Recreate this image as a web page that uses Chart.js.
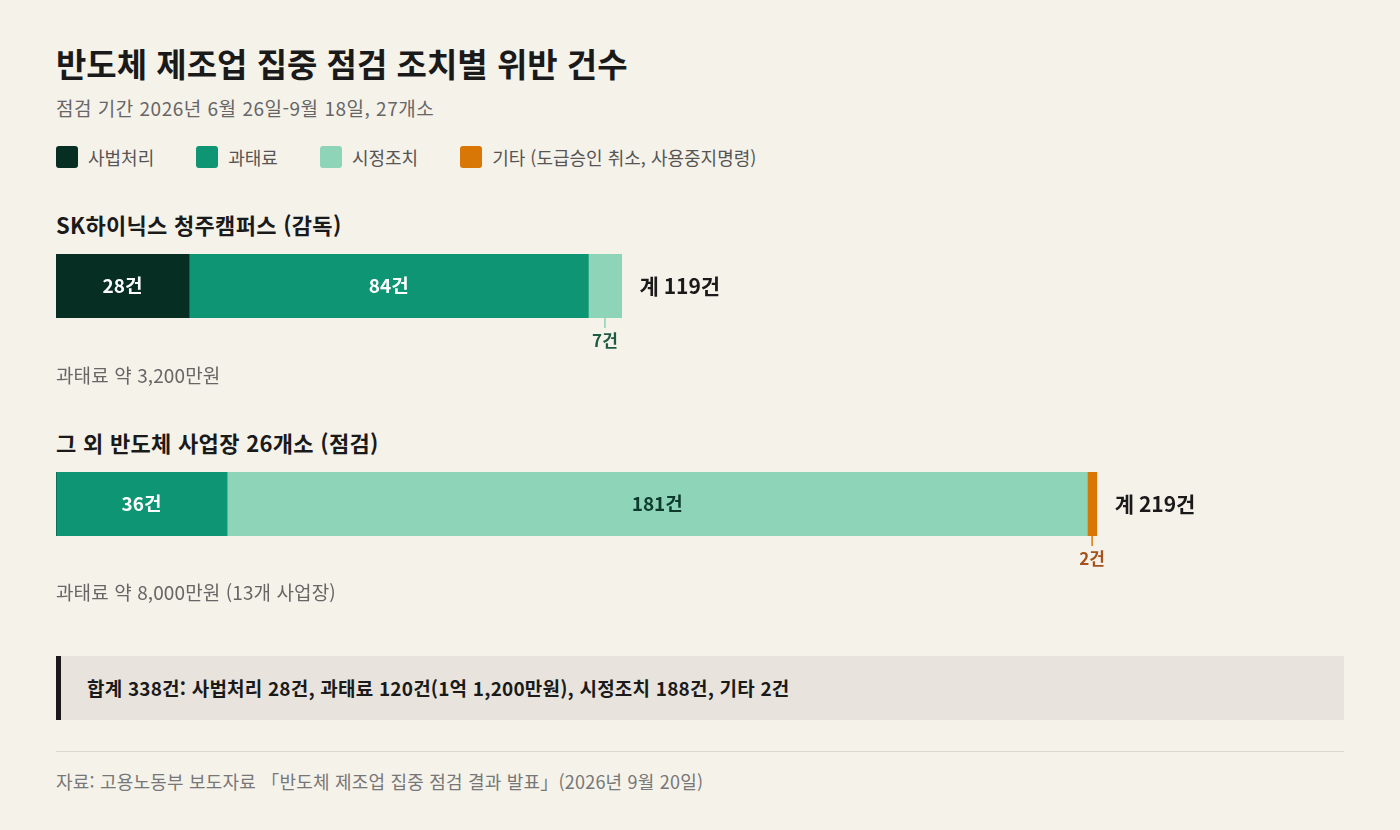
<!DOCTYPE html>
<html lang="ko">
<head>
<meta charset="utf-8">
<title>반도체 제조업 집중 점검 조치별 위반 건수</title>
<script src="https://cdn.jsdelivr.net/npm/chart.js@4.4.1/dist/chart.umd.min.js"></script>
<style>
  html, body { margin: 0; padding: 0; }
  body {
    width: 1400px; height: 830px; overflow: hidden;
    background: #f5f2ea;
    font-family: "Noto Sans CJK KR", "Noto Sans", sans-serif;
    color: #1a1a1a;
  }
  .abs { position: absolute; left: 56px; white-space: nowrap; }
  #title { top: 39px; font-size: 33px; font-weight: 700; line-height: 48px; }
  #subtitle { top: 94px; font-size: 19px; line-height: 28px; color: #666; letter-spacing: 0.5px; }
  #legend { top: 144px; display: flex; font-size: 18px; line-height: 26px; color: #555; }
  .item { display: flex; align-items: center; margin-right: 42px; }
  .swatch { width: 22px; height: 22px; border-radius: 3px; margin-right: 10px; }
  .head { font-size: 22px; font-weight: 700; line-height: 30px; letter-spacing: 0.3px; }
  .note { font-size: 19px; line-height: 26px; color: #666; letter-spacing: 0.1px; }
  .bar { position: absolute; left: 56px; width: 1288px; height: 110px; }
  #summary {
    position: absolute; left: 56px; top: 656px; width: 1288px; height: 64px;
    background: #e8e4dd; border-left: 5px solid #1a1a1a; box-sizing: border-box;
    padding-left: 26px; font-size: 19px; font-weight: 700; line-height: 64px; letter-spacing: 0.2px;
  }
  #rule { position: absolute; left: 56px; top: 751px; width: 1288px; height: 1px; background: #dcd8d0; }
  #source { top: 768px; font-size: 18px; line-height: 26px; color: #777; letter-spacing: 0.2px; }
</style>
</head>
<body>
<div id="title" class="abs">반도체 제조업 집중 점검 조치별 위반 건수</div>
<div id="subtitle" class="abs">점검 기간 2026년 6월 26일-9월 18일, 27개소</div>
<div id="legend" class="abs"></div>

<div class="abs head" style="top:209px">SK하이닉스 청주캠퍼스 (감독)</div>
<div class="bar" style="top:254px"><canvas id="chart1"></canvas></div>
<div class="abs note" style="top:362px">과태료 약 3,200만원</div>

<div class="abs head" style="top:427px">그 외 반도체 사업장 26개소 (점검)</div>
<div class="bar" style="top:472px"><canvas id="chart2"></canvas></div>
<div class="abs note" style="top:579px">과태료 약 8,000만원 (13개 사업장)</div>

<div id="summary">합계 338건: 사법처리 28건, 과태료 120건(1억 1,200만원), 시정조치 188건, 기타 2건</div>
<div id="rule"></div>
<div id="source" class="abs">자료: 고용노동부 보도자료 「반도체 제조업 집중 점검 결과 발표」(2026년 9월 20일)</div>

<script>
// categories (조치 유형)
const categories = ['사법처리', '과태료', '시정조치', '기타 (도급승인 취소, 사용중지명령)'];
// SK하이닉스 청주캠퍼스 (감독)
const hynixValues = [28, 84, 7, 0];
// 그 외 반도체 사업장 26개소 (점검)
const otherValues = [0, 36, 181, 2];

const colors = ['#062e22', '#0e9574', '#8dd4b8', '#d97706'];
const insideText = ['#ffffff', '#ffffff', '#0d3a2c', '#ffffff'];
const calloutText = ['#062e22', '#0e9574', '#1e5a44', '#a5521c'];

// legend
const legend = document.getElementById('legend');
categories.forEach((c, i) => {
  const el = document.createElement('div');
  el.className = 'item';
  el.innerHTML = `<span class="swatch" style="background:${colors[i]}"></span>${c}`;
  legend.appendChild(el);
});

const FONT = '"Noto Sans CJK KR", "Noto Sans", sans-serif';

const barLabels = {
  id: 'barLabels',
  afterDatasetsDraw(chart) {
    const ctx = chart.ctx;
    let endX = chart.chartArea.left, top = 0, bottom = 0, total = 0;
    ctx.save();
    chart.data.datasets.forEach((ds, i) => {
      const v = ds.data[0];
      if (!v) return;
      total += v;
      const bar = chart.getDatasetMeta(i).data[0];
      const p = bar.getProps(['x', 'y', 'base', 'height'], true);
      const w = p.x - p.base;
      const cx = p.base + w / 2;
      top = p.y - p.height / 2;
      bottom = p.y + p.height / 2;
      endX = Math.max(endX, p.x);
      ctx.textAlign = 'center';
      ctx.textBaseline = 'middle';
      if (w > 60) {
        ctx.fillStyle = insideText[i];
        ctx.font = `bold 19px ${FONT}`;
        ctx.fillText(v + '건', cx, p.y);
      } else {
        // small segment: label below with a short leader line
        ctx.strokeStyle = colors[i];
        ctx.lineWidth = 1.5;
        ctx.beginPath();
        ctx.moveTo(cx, bottom);
        ctx.lineTo(cx, bottom + 10);
        ctx.stroke();
        ctx.fillStyle = calloutText[i];
        ctx.font = `bold 17px ${FONT}`;
        ctx.fillText(v + '건', cx, bottom + 23);
      }
    });
    ctx.textAlign = 'left';
    ctx.textBaseline = 'middle';
    ctx.fillStyle = '#1a1a1a';
    ctx.font = `bold 21px ${FONT}`;
    ctx.fillText('계 ' + total + '건', endX + 18, (top + bottom) / 2);
    ctx.restore();
  }
};

function makeBar(id, values) {
  new Chart(document.getElementById(id), {
    type: 'bar',
    data: {
      labels: [''],
      datasets: categories.map((c, i) => ({
        label: c,
        data: [values[i]],
        backgroundColor: colors[i],
        borderWidth: 0,
        barThickness: 64
      }))
    },
    options: {
      indexAxis: 'y',
      responsive: true,
      maintainAspectRatio: false,
      animation: false,
      layout: { padding: { top: 0, bottom: 46, left: 0, right: 0 } },
      scales: {
        x: { stacked: true, min: 0, max: 271, display: false },
        y: { stacked: true, display: false }
      },
      plugins: {
        legend: { display: false },
        tooltip: { enabled: false }
      }
    },
    plugins: [barLabels]
  });
}

makeBar('chart1', hynixValues);
makeBar('chart2', otherValues);
</script>
</body>
</html>
